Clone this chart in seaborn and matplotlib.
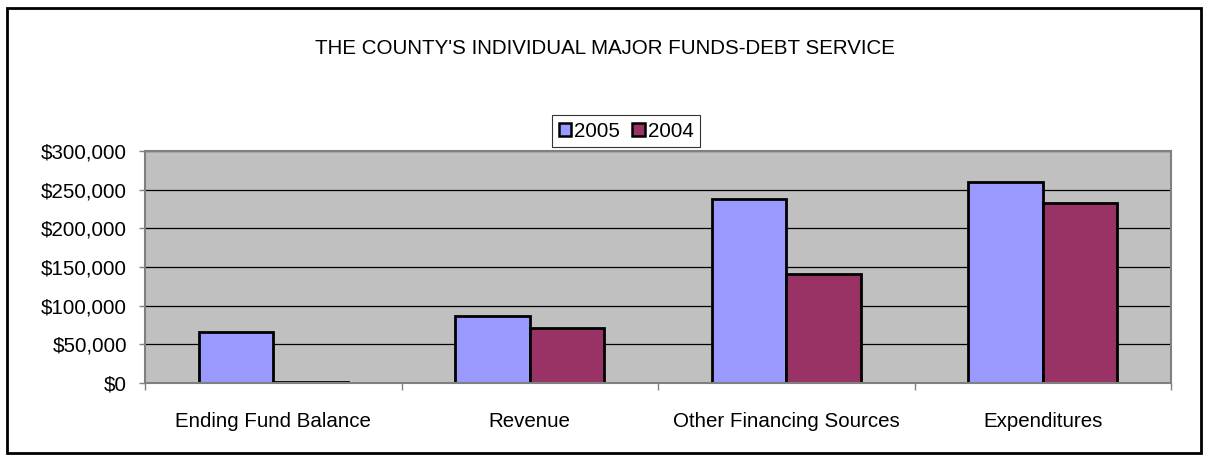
import matplotlib
matplotlib.use("Agg")
import matplotlib.pyplot as plt
import matplotlib.ticker as mticker
from matplotlib.patches import Rectangle
import pandas as pd
import seaborn as sns

categories = ["Ending Fund Balance", "Revenue", "Other Financing Sources", "Expenditures"]
years = ["2005", "2004"]
values_2005 = [66000, 87000, 237500, 260300]
values_2004 = [1500, 70700, 141000, 232300]
y_ticks = [0, 50000, 100000, 150000, 200000, 250000, 300000]

df = pd.DataFrame({
    "category": categories * 2,
    "year": [years[0]] * len(categories) + [years[1]] * len(categories),
    "value": values_2005 + values_2004,
})

sns.set_style("white")
plt.rcParams["font.family"] = ["Liberation Sans", "DejaVu Sans"]
plt.rcParams["text.color"] = "black"
plt.rcParams["xtick.labelcolor"] = "black"
plt.rcParams["ytick.labelcolor"] = "black"
fs = 14.8

fig = plt.figure(figsize=(12.09, 4.61), dpi=100)
ax = fig.add_axes([145 / 1209, 1 - 383 / 461, (1171 - 145) / 1209, (383 - 151) / 461])

sns.barplot(data=df, x="category", y="value", hue="year", order=categories,
            hue_order=years, palette=["#9999FF", "#993366"], width=0.58,
            edgecolor="black", linewidth=2, saturation=1, ax=ax, legend=False)

ax.set_facecolor("#C0C0C0")
ax.set_ylim(0, 300000)
ax.set_xlim(-0.5, len(categories) - 0.5)
ax.set_yticks(y_ticks)
ax.yaxis.set_major_formatter(mticker.FuncFormatter(lambda v, p: "${:,.0f}".format(v)))
ax.grid(axis="y", color="black", linewidth=0.9)
ax.set_axisbelow(True)
ax.set_xlabel("")
ax.set_ylabel("")

for side in ["top", "right", "left", "bottom"]:
    ax.spines[side].set_visible(True)
    ax.spines[side].set_color("#808080")
    ax.spines[side].set_linewidth(1.5)

ax.tick_params(axis="y", length=4, width=1, color="#808080", labelcolor="black",
               pad=9, labelsize=fs, left=True)
ax.tick_params(axis="x", which="major", length=0, pad=21, labelsize=fs, labelcolor="black")
ax.set_xticks([i - 0.5 for i in range(len(categories) + 1)], minor=True)
ax.tick_params(axis="x", which="minor", length=5, width=1, color="#808080", bottom=True)

fig.text(0.5, 1 - 48 / 461, "THE COUNTY'S INDIVIDUAL MAJOR FUNDS-DEBT SERVICE",
         ha="center", va="center", fontsize=fs, color="black")

handles = [Rectangle((0, 0), 1, 1, facecolor=c, edgecolor="black", linewidth=1.8)
           for c in ["#9999FF", "#993366"]]
leg = fig.legend(handles, years, loc="center", ncol=2,
                 bbox_to_anchor=(626 / 1209, 1 - 131 / 461), frameon=True,
                 fancybox=False, edgecolor="black", fontsize=fs,
                 handlelength=0.6, handleheight=0.6, handletextpad=0.15,
                 columnspacing=0.6, borderpad=0.3, borderaxespad=0)
leg.get_frame().set_linewidth(0.8)
for t in leg.get_texts():
    t.set_color("black")

fig.patches.append(Rectangle((7 / 1209, 8 / 461), 1194 / 1209, 445 / 461,
                             transform=fig.transFigure, fill=False,
                             edgecolor="black", linewidth=2))

fig.savefig("out.png", dpi=100)
